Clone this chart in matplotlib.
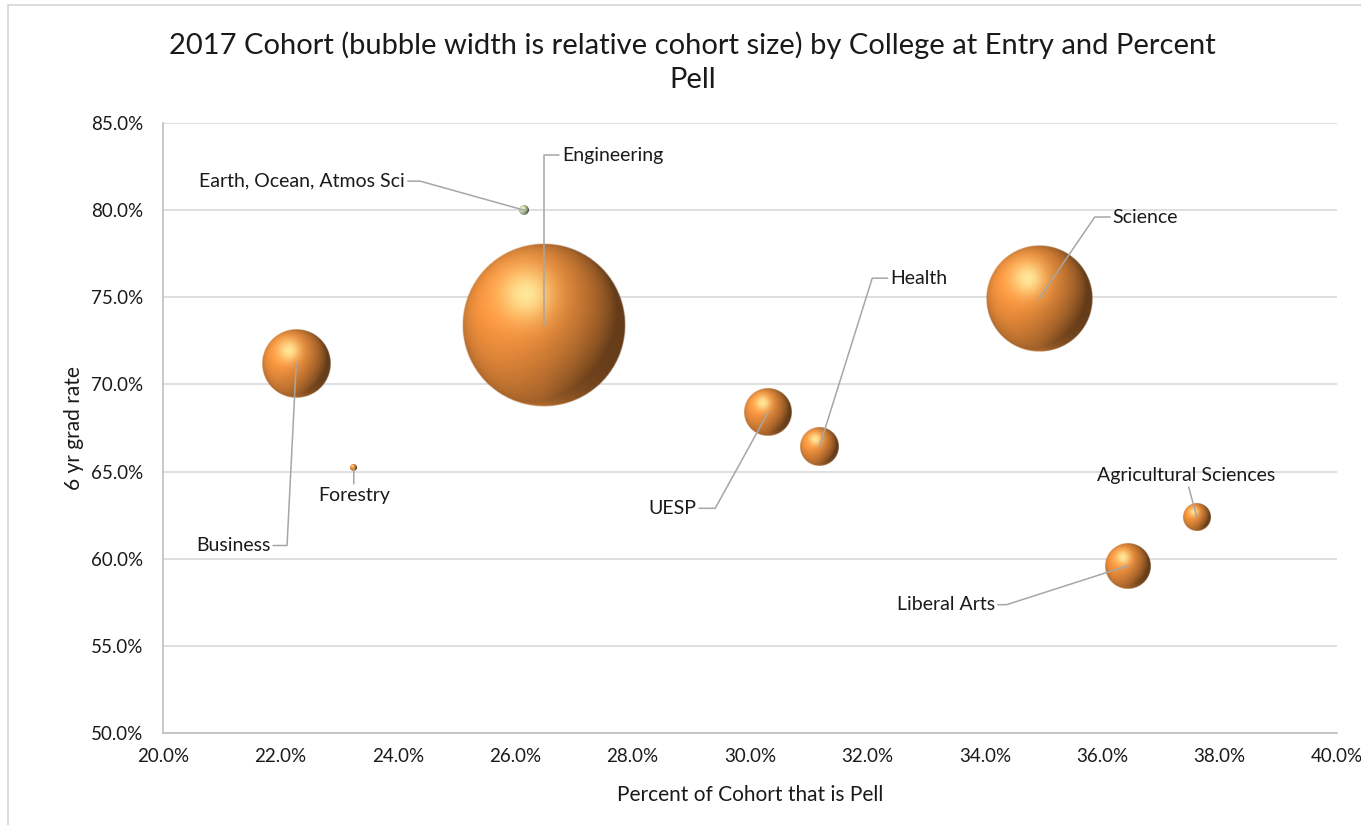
import numpy as np
import matplotlib
matplotlib.use('Agg')
import matplotlib.pyplot as plt
from matplotlib.colors import to_rgb
from matplotlib.lines import Line2D

# data
colleges = ['Earth, Ocean, Atmos Sci', 'Engineering', 'Business', 'Forestry', 'UESP',
            'Health', 'Science', 'Agricultural Sciences', 'Liberal Arts']
pct_pell = [26.15, 26.49, 22.27, 23.25, 30.31, 31.18, 34.92, 37.61, 36.44]
grad_rate = [80.0, 73.4, 71.2, 65.2, 68.4, 66.4, 74.9, 62.4, 59.6]
cohort_size = [60, 1000, 415, 40, 290, 232, 650, 170, 280]
bubble_colors = ['#c9d9b0', '#f2913d', '#f2913d', '#f2913d', '#f2913d',
                 '#f2913d', '#f2913d', '#f2913d', '#f2913d']

# label placement: text offset (pixels), alignment, leader angle at bubble (None = straight)
label_offset = [(-119, 29), (18, 170), (-26, -182), (0, -27), (-72, -96),
                (71, 169), (74, 82), (-11, 41), (-133, -39)]
label_ha = ['right', 'left', 'right', 'center', 'right', 'left', 'left', 'center', 'right']
leader_angle = [164.4, 90, 267.1, None, 241.1, 72.6, 55.7, None, 197.8]

plt.rcParams['font.family'] = ['Lato', 'DejaVu Sans']
TXT = '#1a1a1a'

fig = plt.figure(figsize=(13.61, 8.25), dpi=100)
ax = fig.add_axes([163 / 1361, 92 / 825, 1174 / 1361, 610 / 825])
ax.set_xlim(20, 40)
ax.set_ylim(50, 85)

# chart border (only top and left edge show in the picture)
fig.add_artist(Line2D([8 / 1361, 8 / 1361, 1], [0, 1 - 4.5 / 825, 1 - 4.5 / 825],
                      transform=fig.transFigure, color='#d9d9d9', lw=1.3))

# data units per pixel, so the bubbles stay round
ax_w_px, ax_h_px = 1174, 610
xpp = 20 / ax_w_px
ypp = 35 / ax_h_px
max_diam_px = 164


def sphere_image(color, n=220):
    g = np.linspace(-1, 1, n)
    X, Y = np.meshgrid(g, -g)
    R = np.sqrt(X ** 2 + Y ** 2)
    Z = np.sqrt(np.clip(1 - R ** 2, 0, 1))
    L = np.array([-0.45, 0.35, 0.82])
    L = L / np.linalg.norm(L)
    diff = np.clip(X * L[0] + Y * L[1] + Z * L[2], 0, 1)
    shade = 0.42 + 0.66 * diff
    # lighter reflected rim at the bottom
    rim = np.clip(-Y, 0, 1) ** 2 * (1 - Z) ** 0.5 * 0.35
    shade = shade + rim * (1 - np.clip(X, 0, 1))
    base = np.array(to_rgb(color))
    rgb = base[None, None, :] * shade[:, :, None]
    # broad soft highlight towards the upper left
    hl = np.exp(-((X + 0.22) ** 2 + (Y - 0.38) ** 2) / (2 * 0.22 ** 2)) * 0.85
    hl_col = np.array([1.0, 0.96, 0.66])
    rgb = rgb * (1 - hl[:, :, None]) + hl_col[None, None, :] * hl[:, :, None]
    img = np.zeros((n, n, 4))
    img[:, :, :3] = np.clip(rgb, 0, 1)
    img[:, :, 3] = np.clip((1 - R) * n / 2.5, 0, 1)
    return img


ax.yaxis.grid(True, color='#d9d9d9', lw=1.2, zorder=0)
ax.set_axisbelow(True)

for x, y, s, col in zip(pct_pell, grad_rate, cohort_size, bubble_colors):
    d = s / max(cohort_size) * max_diam_px
    rx = d / 2 * xpp
    ry = d / 2 * ypp
    ax.imshow(sphere_image(col), extent=[x - rx, x + rx, y - ry, y + ry],
              aspect='auto', interpolation='bilinear', zorder=2)

for name, x, y, off, ha, ang in zip(colleges, pct_pell, grad_rate, label_offset,
                                    label_ha, leader_angle):
    if ang is None:
        cs = 'arc3,rad=0'
    else:
        cs = 'angle,angleA=0,angleB=%.1f,rad=0' % ang
    ax.annotate(name, xy=(x, y), xytext=off, textcoords='offset pixels',
                ha=ha, va='center', fontsize=14, color=TXT, zorder=4,
                arrowprops=dict(arrowstyle='-', color='#a6a6a6', lw=1.1,
                                shrinkA=0, shrinkB=0, connectionstyle=cs))

ax.set_xlim(20, 40)
ax.set_ylim(50, 85)
ax.set_xticks(np.arange(20, 40.1, 2))
ax.set_yticks(np.arange(50, 85.1, 5))
ax.set_xticklabels(['%.1f%%' % v for v in np.arange(20, 40.1, 2)])
ax.set_yticklabels(['%.1f%%' % v for v in np.arange(50, 85.1, 5)])
ax.tick_params(length=0, labelsize=13.5, labelcolor=TXT)
ax.tick_params(axis='y', pad=14)
ax.tick_params(axis='x', pad=11)
for side in ['top', 'right']:
    ax.spines[side].set_visible(False)
for side in ['left', 'bottom']:
    ax.spines[side].set_color('#bfbfbf')
    ax.spines[side].set_linewidth(1.2)

ax.set_xlabel('Percent of Cohort that is Pell', fontsize=15, color=TXT, labelpad=14)
ax.set_ylabel('6 yr grad rate', fontsize=15, color=TXT, labelpad=5)
fig.text(0.509, 0.962, '2017 Cohort (bubble width is relative cohort size) by College at Entry and Percent\nPell',
         ha='center', va='top', fontsize=21, color=TXT, linespacing=1.4)

fig.savefig('out.png', dpi=100)
